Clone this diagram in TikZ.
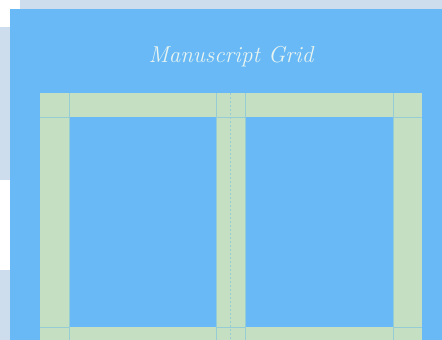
\documentclass[tikz,border=0pt]{standalone}
\usepackage{tikz}
\definecolor{pagebg}{RGB}{205,221,238}
\definecolor{panel}{RGB}{104,185,246}
\definecolor{gutter}{RGB}{196,223,193}
\definecolor{rule}{RGB}{150,205,212}
\definecolor{titleink}{RGB}{232,244,240}

\begin{document}
\begin{tikzpicture}[x=1pt,y=-1pt,
  band/.style={fill=gutter},
  gridline/.style={draw=rule,line width=0.6pt},
  centreline/.style={draw=rule,line width=0.6pt,dash pattern=on 2pt off 2pt},
  title/.style={text=titleink,font=\fontsize{23}{27}\selectfont\itshape}
]
\useasboundingbox (0,0) rectangle (442,340);
%% -- page behind the panel ----------------------------------------------------
\fill[white]  (0,0) rectangle (442,340);
\fill[pagebg] (20,0) rectangle (442,9);
\fill[pagebg] (0,27) rectangle (10,180);
\fill[pagebg] (0,270) rectangle (10,340);

%% -- panel ------------------------------------------------------------------------
\fill[panel] (10,9) rectangle (442,340);
\node[title] (ttl) at (231,57) {Manuscript Grid};

%% -- margins and gutter -----------------------------------------------------------
\fill[band] (40,93)  rectangle (422,117);   % top margin
\fill[band] (40,327) rectangle (422,351);   % bottom margin
\fill[band] (40,93)  rectangle (69,351);    % left margin
\fill[band] (216,93) rectangle (245,351);   % gutter
\fill[band] (393,93) rectangle (422,351);   % right margin

%% -- track lines ------------------------------------------------------------------
\foreach \x in {69,216,245,393}
  \draw[gridline] (\x,93) -- (\x,117) (\x,327) -- (\x,340);
\foreach \y in {117,327}
  \draw[gridline] (40,\y) -- (69,\y) (216,\y) -- (245,\y) (393,\y) -- (422,\y);
\draw[gridline] (69,117) -- (69,327) (216,117) -- (216,327)
                (245,117) -- (245,327) (393,117) -- (393,327);
\draw[centreline] (230.5,93) -- (230.5,340);
\end{tikzpicture}
\end{document}
